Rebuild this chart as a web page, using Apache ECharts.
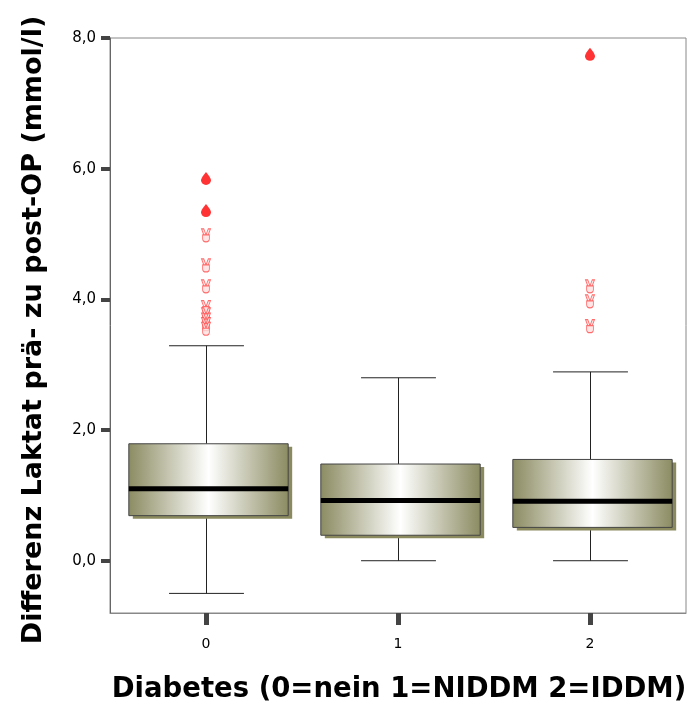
<!DOCTYPE html>
<html>
<head>
<meta charset="utf-8">
<script src="https://cdn.jsdelivr.net/npm/echarts@6/dist/echarts.min.js"></script>
<style>html,body{margin:0;padding:0;background:#fff}#c{width:691px;height:709px}</style>
</head>
<body>
<div id="c"></div>
<script>
var categories = ['0', '1', '2'];
var lowerWhisker = [-0.50, 0.00, 0.00];
var q1 = [0.69, 0.39, 0.51];
var median = [1.10, 0.92, 0.91];
var q3 = [1.79, 1.48, 1.55];
var upperWhisker = [3.29, 2.80, 2.89];
var extremes = [[0, 5.85], [0, 5.36], [2, 7.75]];
var outliers = [[0, 4.98], [0, 4.52], [0, 4.20], [0, 3.88], [0, 3.77], [0, 3.69], [0, 3.62], [0, 3.55],
                [2, 4.20], [2, 3.97], [2, 3.59]];
var yTicks = [0, 2, 4, 6, 8];

var boxData = categories.map(function (c, i) {
  return [i, lowerWhisker[i], q1[i], median[i], q3[i], upperWhisker[i]];
});

var chart = echarts.init(document.getElementById('c'));
var dropPath = 'path://M5,0 C5,0 0,6 0,9 A5,5 0 0 0 10,9 C10,6 5,0 5,0 Z';
var handPath = 'path://M1,0 L3,0 L5,6 L3,6 Z M9,0 L7,0 L5,6 L7,6 Z M2,6 L8,6 L8,10 Q8,13 5,13 Q2,13 2,10 Z';

chart.setOption({
  animation: false,
  grid: { left: 110, top: 38, right: 5, bottom: 96, show: true, borderColor: '#888', borderWidth: 1, backgroundColor: '#fff' },
  xAxis: {
    type: 'category',
    data: categories,
    axisLine: { show: true, onZero: false, lineStyle: { color: '#888', width: 1 } },
    axisTick: { show: true, alignWithLabel: true, length: 12, lineStyle: { color: '#444', width: 5 } },
    axisLabel: { color: '#000', fontSize: 14, fontFamily: 'DejaVu Sans', margin: 24 },
    splitLine: { show: false }
  },
  yAxis: {
    type: 'value',
    min: -0.8,
    max: 8,
    axisLine: { show: true, lineStyle: { color: '#666', width: 1 } },
    axisTick: { show: true, length: 9, customValues: yTicks, lineStyle: { color: '#444', width: 4 } },
    axisLabel: {
      customValues: yTicks,
      color: '#000', fontSize: 15, fontFamily: 'DejaVu Sans', margin: 14,
      formatter: function (v) { return v.toFixed(1).replace('.', ','); }
    },
    splitLine: { show: false }
  },
  graphic: [
    { type: 'text', x: 34, y: 330, rotation: Math.PI / 2,
      style: { text: 'Differenz Laktat prä- zu post-OP (mmol/l)', font: 'bold 27px "DejaVu Sans"', fill: '#000', align: 'center', verticalAlign: 'middle' } },
    { type: 'text', x: 399, y: 690,
      style: { text: 'Diabetes (0=nein 1=NIDDM 2=IDDM)', font: 'bold 27.5px "DejaVu Sans"', fill: '#000', align: 'center', verticalAlign: 'middle' } }
  ],
  series: [
    {
      type: 'custom',
      data: boxData,
      encode: { x: 0, y: [1, 2, 3, 4, 5] },
      renderItem: function (params, api) {
        var i = api.value(0);
        var band = api.size([1, 0])[0];
        var bw = band * 0.83;
        var cw = bw * 0.47;
        var pLow = api.coord([i, api.value(1)]);
        var pQ1 = api.coord([i, api.value(2)]);
        var pMed = api.coord([i, api.value(3)]);
        var pQ3 = api.coord([i, api.value(4)]);
        var pHigh = api.coord([i, api.value(5)]);
        var cx = Math.round(pLow[0]) + 0.5;
        var x0 = cx - bw / 2 + 2;
        var line = { stroke: '#222', lineWidth: 1 };
        return {
          type: 'group',
          children: [
            { type: 'line', shape: { x1: cx, y1: pHigh[1], x2: cx, y2: pQ3[1] }, style: line },
            { type: 'line', shape: { x1: cx, y1: pQ1[1], x2: cx, y2: pLow[1] }, style: line },
            { type: 'line', shape: { x1: cx - cw / 2, y1: pHigh[1], x2: cx + cw / 2, y2: pHigh[1] }, style: line },
            { type: 'line', shape: { x1: cx - cw / 2, y1: pLow[1], x2: cx + cw / 2, y2: pLow[1] }, style: line },
            { type: 'rect', shape: { x: x0 + 4, y: pQ3[1] + 3, width: bw, height: pQ1[1] - pQ3[1] },
              style: { fill: '#8a8a5e' } },
            { type: 'rect', shape: { x: x0, y: pQ3[1], width: bw, height: pQ1[1] - pQ3[1] },
              style: {
                fill: { type: 'linear', x: 0, y: 0, x2: 1, y2: 0, colorStops: [
                  { offset: 0, color: '#8b8b62' }, { offset: 0.5, color: '#ffffff' }, { offset: 1, color: '#8b8b62' }] },
                stroke: '#444', lineWidth: 1
              } },
            { type: 'line', shape: { x1: x0, y1: pMed[1], x2: x0 + bw, y2: pMed[1] }, style: { stroke: '#000', lineWidth: 5 } }
          ]
        };
      },
      z: 2
    },
    {
      type: 'scatter',
      data: extremes,
      symbol: dropPath,
      symbolSize: [10, 13],
      itemStyle: { color: '#ff0000' },
      z: 3
    },
    {
      type: 'scatter',
      data: outliers,
      symbol: handPath,
      symbolSize: [9, 13],
      itemStyle: { color: '#ffe0e0', borderColor: '#ff4a4a', borderWidth: 1 },
      z: 3
    }
  ]
});
</script>
</body>
</html>
